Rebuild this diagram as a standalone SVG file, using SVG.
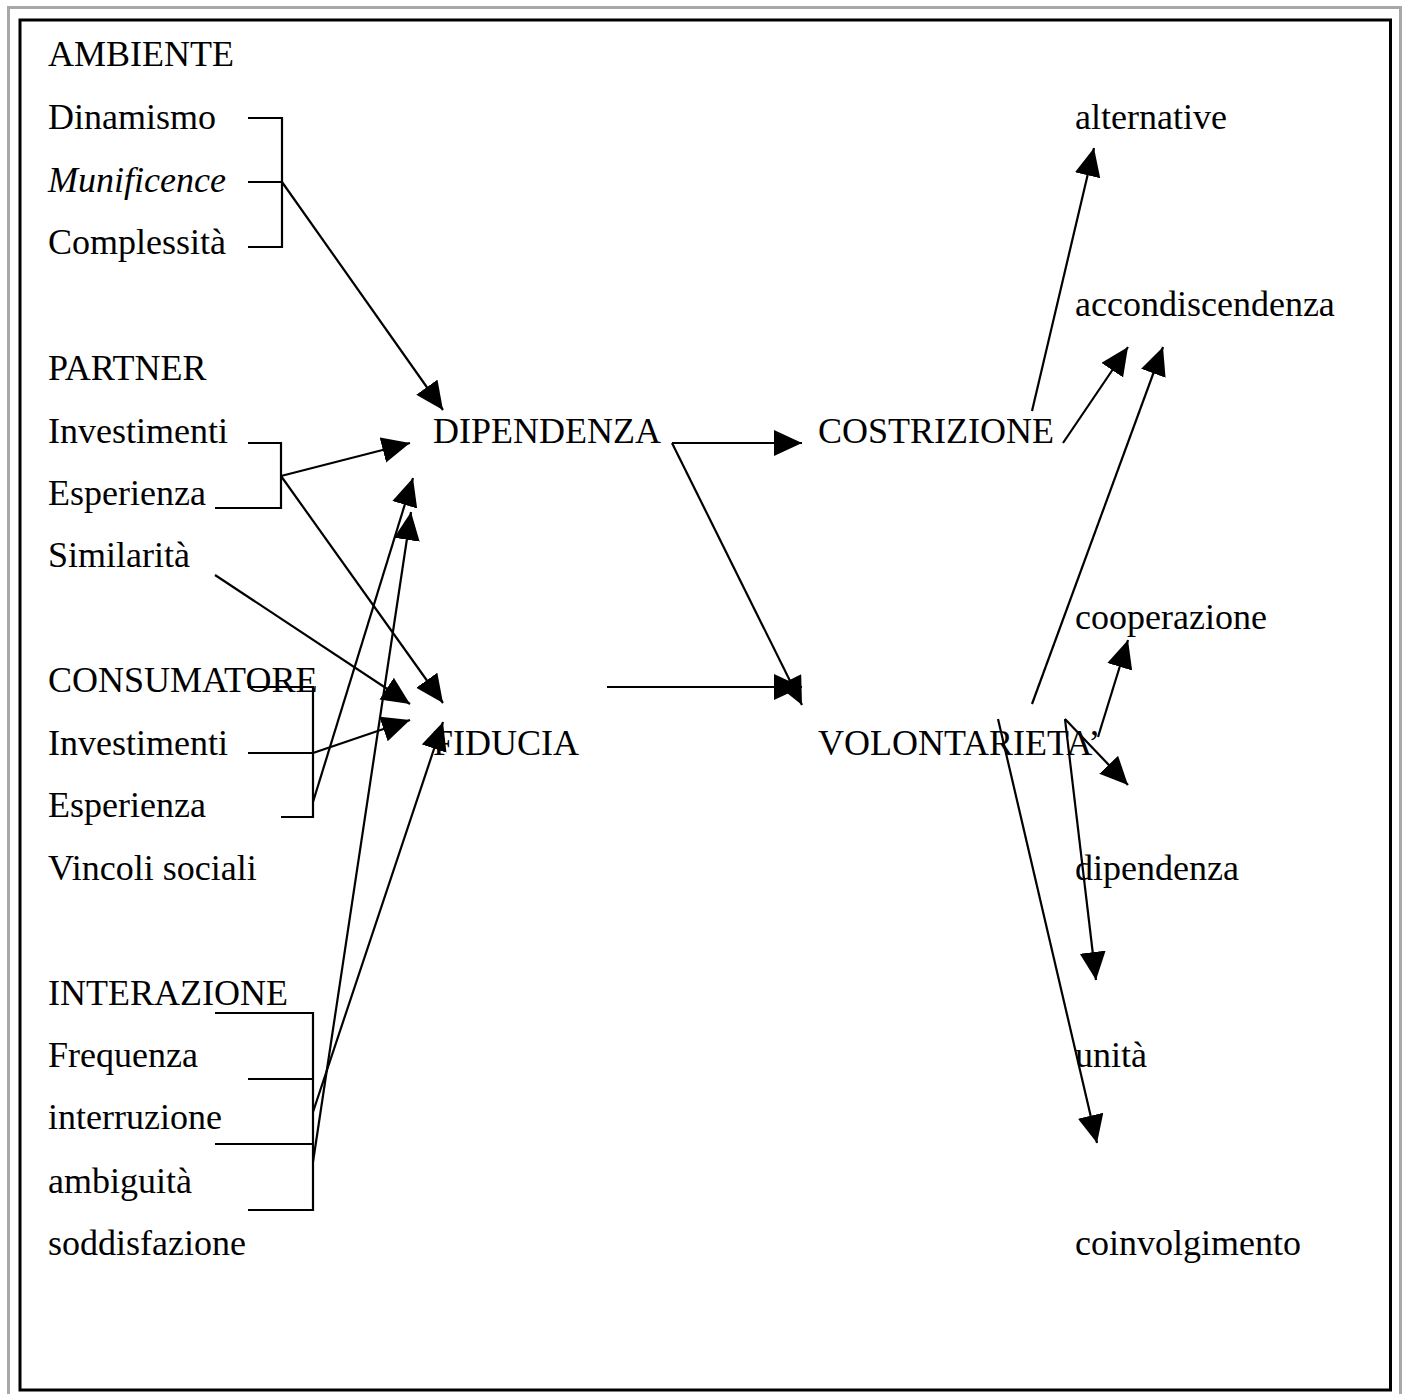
<svg xmlns="http://www.w3.org/2000/svg" width="1404" height="1394" viewBox="0 0 1404 1394">
<style>
text{font-family:"Liberation Serif","Times New Roman",serif;font-size:36px;fill:#000}
.it{font-style:italic}
.c line,.c polyline{stroke:#000;stroke-width:2.2;fill:none}
</style>
<defs>
<marker id="ah" markerUnits="userSpaceOnUse" markerWidth="30" markerHeight="28" refX="28" refY="13" orient="auto" viewBox="0 0 30 28">
<path d="M0,0 L28,13 L0,26 Z" fill="#000"/>
</marker>
</defs>
<rect x="0" y="0" width="1404" height="1394" fill="#fff"/>
<rect x="8.5" y="7.5" width="1392" height="1400" fill="none" stroke="#a8a8a8" stroke-width="3"/>
<rect x="20" y="20" width="1370.5" height="1370" fill="none" stroke="#000" stroke-width="3"/>

<g id="ambiente"><text x="48" y="66">AMBIENTE</text><text x="48" y="129">Dinamismo</text><text x="48" y="192" class="it">Munificence</text><text x="48" y="254">Complessità</text></g>
<g id="partner"><text x="48" y="380">PARTNER</text><text x="48" y="443">Investimenti</text><text x="48" y="505">Esperienza</text><text x="48" y="567">Similarità</text></g>
<g id="consumatore"><text x="48" y="692">CONSUMATORE</text><text x="48" y="755">Investimenti</text><text x="48" y="817">Esperienza</text><text x="48" y="880">Vincoli sociali</text></g>
<g id="interazione"><text x="48" y="1005">INTERAZIONE</text><text x="48" y="1067">Frequenza</text><text x="48" y="1129">interruzione</text><text x="48" y="1193">ambiguità</text><text x="48" y="1255">soddisfazione</text></g>
<g id="dipendenza"><text x="433" y="443">DIPENDENZA</text></g>
<g id="fiducia"><text x="433" y="755">FIDUCIA</text></g>
<g id="costrizione"><text x="818" y="443">COSTRIZIONE</text></g>
<g id="volontarieta"><text x="818" y="755">VOLONTARIETA’</text></g>
<g id="alternative"><text x="1075" y="129">alternative</text></g>
<g id="accondiscendenza"><text x="1075" y="316">accondiscendenza</text></g>
<g id="cooperazione"><text x="1075" y="629">cooperazione</text></g>
<g id="dipendenza2"><text x="1075" y="880">dipendenza</text></g>
<g id="unita"><text x="1075" y="1067">unità</text></g>
<g id="coinvolgimento"><text x="1075" y="1255">coinvolgimento</text></g>

<g id="connectors" class="c">
<polyline points="248,118 282,118 282,247 248,247"/>
<line x1="248" y1="182" x2="282" y2="182"/>
<polyline points="248,443 281,443 281,508 215,508"/>
<polyline points="248,687 313,687 313,817 281,817"/>
<line x1="248" y1="753" x2="313" y2="753"/>
<polyline points="215,1013 313,1013 313,1210 248,1210"/>
<line x1="248" y1="1079" x2="313" y2="1079"/>
<line x1="215" y1="1144" x2="313" y2="1144"/>

<line x1="282" y1="182" x2="443" y2="410" marker-end="url(#ah)"/>
<line x1="281" y1="476" x2="410" y2="443" marker-end="url(#ah)"/>
<line x1="281" y1="476" x2="443" y2="703" marker-end="url(#ah)"/>
<line x1="215" y1="575" x2="410" y2="704" marker-end="url(#ah)"/>
<line x1="313" y1="753" x2="410" y2="720" marker-end="url(#ah)"/>
<line x1="313" y1="802" x2="413" y2="478" marker-end="url(#ah)"/>
<line x1="313" y1="1112" x2="443" y2="722" marker-end="url(#ah)"/>
<line x1="313" y1="1162" x2="411" y2="512" marker-end="url(#ah)"/>
<line x1="672" y1="443" x2="802" y2="443" marker-end="url(#ah)"/>
<line x1="672" y1="443" x2="802" y2="705" marker-end="url(#ah)"/>
<line x1="607" y1="687" x2="802" y2="687" marker-end="url(#ah)"/>
<line x1="1032" y1="411" x2="1094" y2="148" marker-end="url(#ah)"/>
<line x1="1063" y1="443" x2="1128" y2="347" marker-end="url(#ah)"/>
<line x1="1032" y1="704" x2="1163" y2="347" marker-end="url(#ah)"/>
<line x1="1098" y1="737" x2="1128" y2="640" marker-end="url(#ah)"/>
<line x1="1065" y1="719" x2="1128" y2="785" marker-end="url(#ah)"/>
<line x1="1065" y1="719" x2="1096" y2="980" marker-end="url(#ah)"/>
<line x1="998" y1="719" x2="1097" y2="1143" marker-end="url(#ah)"/>
</g>
</svg>
